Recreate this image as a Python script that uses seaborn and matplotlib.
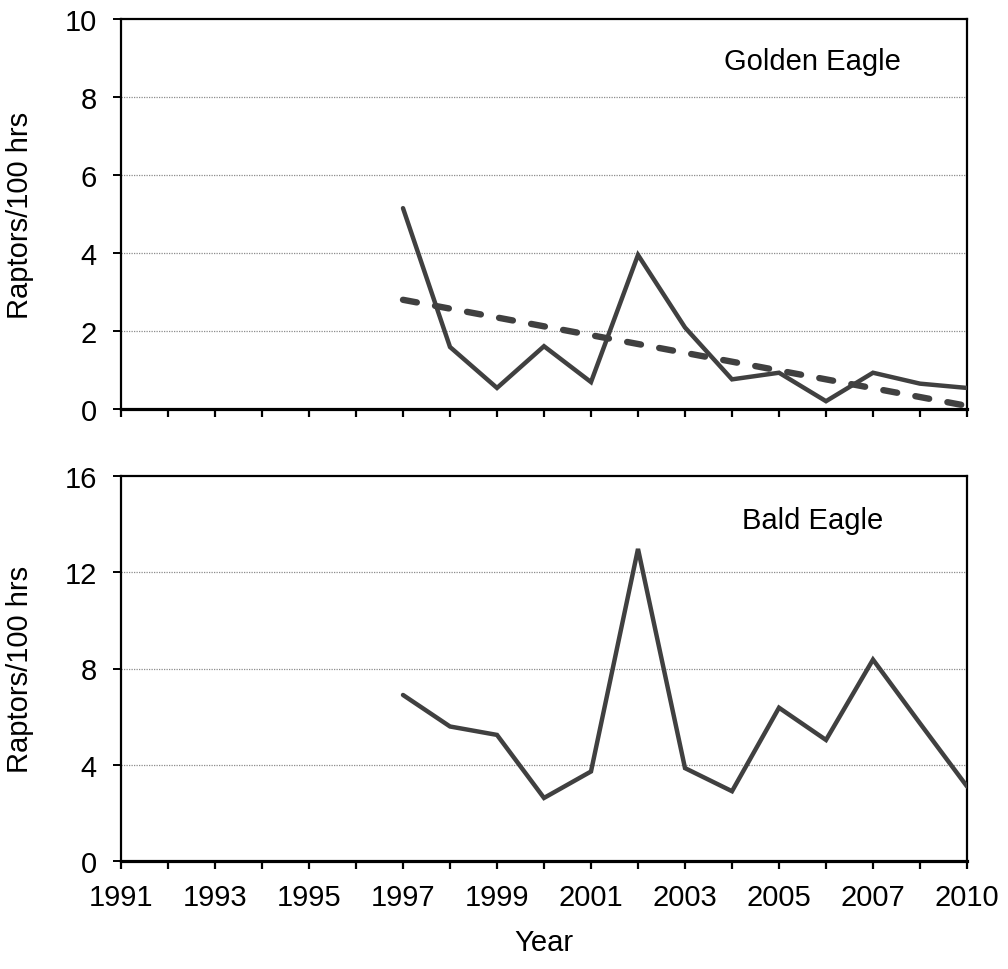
import matplotlib
matplotlib.use("Agg")
import matplotlib.pyplot as plt
import seaborn as sns
import pandas as pd

# ---- data ----
year_labels = ["1991", "1992", "1993", "1994", "1995", "1996", "1997", "1998",
               "1999", "2000", "2001", "2002", "2003", "2004", "2005", "2006",
               "2007", "2008", "2010"]
obs_years = ["1997", "1998", "1999", "2000", "2001", "2002", "2003", "2004",
             "2005", "2006", "2007", "2008", "2010"]
golden_eagle = [5.15, 1.59, 0.54, 1.61, 0.69, 3.95, 2.09, 0.76, 0.93, 0.20, 0.93, 0.65, 0.54]
bald_eagle = [6.90, 5.59, 5.24, 2.62, 3.72, 12.97, 3.86, 2.90, 6.37, 5.03, 8.37, 5.72, 3.10]
trend_years = ["1997", "2010"]
golden_trend = [2.80, 0.08]
top_yticks = [0, 2, 4, 6, 8, 10]
bottom_yticks = [0, 4, 8, 12, 16]

# ---- style ----
sns.set_theme(style="white")
plt.rcParams["font.family"] = ["Liberation Sans", "DejaVu Sans"]
FS = 21
LINE_C = "#404040"

pos = {y: i for i, y in enumerate(year_labels)}
df = pd.DataFrame({"pos": [pos[y] for y in obs_years],
                   "golden": golden_eagle, "bald": bald_eagle})
tdf = pd.DataFrame({"pos": [pos[y] for y in trend_years], "trend": golden_trend})

fig = plt.figure(figsize=(10.08, 9.70), dpi=100)
W, H = 1008, 970
ax1 = fig.add_axes([121 / W, 1 - 410 / H, (967 - 121) / W, (410 - 20) / H])
ax2 = fig.add_axes([121 / W, 1 - 862 / H, (967 - 121) / W, (862 - 477) / H])


def style_axis(ax, yticks, show_xlabels):
    ax.set_xlim(0, len(year_labels) - 1)
    ax.set_ylim(yticks[0], yticks[-1])
    ax.set_yticks(yticks)
    ax.set_yticklabels([str(t) for t in yticks], fontsize=FS)
    ax.set_xticks(range(len(year_labels)))
    if show_xlabels:
        ax.set_xticklabels([lab if i % 2 == 0 else "" for i, lab in enumerate(year_labels)],
                           fontsize=FS)
    else:
        ax.set_xticklabels([])
    for t in yticks[1:-1]:
        ax.axhline(t, color="#8c8c8c", lw=0.9, ls=(0, (1, 1)), zorder=0)
    for s in ["left", "right", "top"]:
        ax.spines[s].set_color("black")
        ax.spines[s].set_linewidth(1.6)
        ax.spines[s].set_visible(True)
    ax.spines["bottom"].set_color("black")
    ax.spines["bottom"].set_linewidth(2.3)
    ax.spines["bottom"].set_visible(True)
    ax.tick_params(axis="y", direction="out", length=5.5, width=1.4, color="black",
                   left=True, pad=12, labelcolor="black")
    ax.tick_params(axis="x", direction="out", length=6, width=1.6, color="black",
                   bottom=True, pad=10, labelcolor="black")
    ax.set_ylabel("Raptors/100 hrs", fontsize=FS, color="black", va="center")
    ax.yaxis.set_label_coords(-0.119, 0.5)
    ax.set_facecolor("white")


# Golden eagle
sns.lineplot(data=df, x="pos", y="golden", ax=ax1, color=LINE_C, lw=3.2,
             solid_capstyle="round", solid_joinstyle="miter", zorder=3)
sns.lineplot(data=tdf, x="pos", y="trend", ax=ax1, color=LINE_C, lw=4.6,
             linestyle=(0, (2.2, 2.9)), dash_capstyle="round", zorder=4)
style_axis(ax1, top_yticks, False)
ax1.set_xlabel("")
ax1.text(0.817, 0.893, "Golden Eagle", transform=ax1.transAxes, fontsize=FS,
         ha="center", va="center", color="black")

# Bald eagle
sns.lineplot(data=df, x="pos", y="bald", ax=ax2, color=LINE_C, lw=3.2,
             solid_capstyle="round", solid_joinstyle="miter", zorder=3)
style_axis(ax2, bottom_yticks, True)
ax2.set_xlabel("Year", fontsize=FS, color="black", labelpad=12)
ax2.text(0.818, 0.885, "Bald Eagle", transform=ax2.transAxes, fontsize=FS,
         ha="center", va="center", color="black")

fig.savefig("out.png", dpi=100, facecolor="white")
